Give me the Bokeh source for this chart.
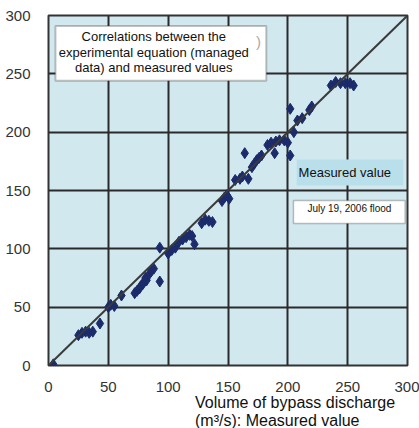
from bokeh.plotting import figure
from bokeh.models import Range1d, Label, BoxAnnotation, FixedTicker, Slope
from bokeh.layouts import column
from bokeh.embed import file_html
from bokeh.resources import INLINE

# Data: measured discharge (x) vs experimental-equation value (y), m3/s
x_measured = [4, 25, 28, 31, 34, 37, 43, 50, 52, 55, 61, 72, 74, 76, 77, 79, 80, 82, 81, 84,
              86, 88, 93, 93, 100, 103, 106, 109, 112, 115, 118, 120, 122, 128, 131, 134, 137,
              145, 147, 149, 151, 156, 160, 162, 164, 167, 170, 172, 174, 176, 178, 183, 186,
              189, 190, 193, 197, 200, 202, 205, 202, 208, 212, 218, 220, 236, 240, 244, 248,
              252, 255]
y_equation = [1, 26, 28, 29, 28, 29, 36, 50, 52, 51, 60, 62, 64, 66, 68, 70, 72, 73, 75, 78,
              81, 83, 72, 101, 96, 99, 101, 106, 108, 110, 112, 111, 104, 122, 125, 124, 123,
              141, 144, 146, 143, 159, 160, 162, 182, 160, 170, 173, 176, 178, 180, 189, 191,
              182, 192, 193, 193, 191, 180, 200, 220, 210, 212, 219, 222, 240, 243, 242, 242,
              242, 240]
ticks = [0, 50, 100, 150, 200, 250, 300]
title_lines = ["Correlations between the", "experimental equation (managed", "data) and measured values"]
xlabel_lines = ["Volume of bypass discharge", "(m\u00b3/s): Measured value"]
legend_box_text = "Measured value"
legend_item_text = "July 19, 2006 flood"

FONT = "Liberation Sans"

p = figure(width=419, height=395, output_backend="svg", toolbar_location=None,
           x_range=Range1d(0, 300), y_range=Range1d(0, 300),
           min_border_left=48, min_border_right=12, min_border_top=15, min_border_bottom=30)
p.background_fill_color = "#d0e8ee"
p.border_fill_color = "white"
p.outline_line_color = "#333333"
p.outline_line_width = 2

for ax in (p.xaxis, p.yaxis):
    ax.ticker = FixedTicker(ticks=ticks)
    ax.axis_line_color = None
    ax.major_tick_line_color = None
    ax.minor_tick_line_color = None
    ax.major_label_text_font = FONT
    ax.major_label_text_font_size = "15px"
    ax.major_label_text_color = "#333333"
p.xaxis.major_label_standoff = 10
p.yaxis.major_label_standoff = 12

p.grid.ticker = FixedTicker(ticks=ticks)
p.grid.grid_line_color = "#2a2a2a"
p.grid.grid_line_width = 2

# 1:1 line
p.add_layout(Slope(gradient=1, y_intercept=0, line_color="#3a3a3a", line_width=2))

p.scatter(x_measured, y_equation, marker="diamond", size=11, color="#1b2b6b")

# Top annotation box
p.add_layout(BoxAnnotation(left=5.8, right=182, bottom=244, top=291,
                           fill_color="white", fill_alpha=1.0,
                           line_color="#333333", line_width=2))
for t, yv in zip(title_lines, [282, 268.5, 255.3]):
    p.add_layout(Label(x=88, y=yv, text=t, text_align="center", text_baseline="middle",
                       text_font=FONT, text_font_size="13px", text_color="#111111"))
p.add_layout(Label(x=175.5, y=278, text=")", text_align="center", text_baseline="middle",
                   text_font=FONT, text_font_size="15px", text_color="#aaaaaa"))

# "Measured value" box
p.add_layout(BoxAnnotation(left=207.4, right=296.5, bottom=154.3, top=176.6,
                           fill_color="#b9dfea", fill_alpha=1.0, line_color=None))
p.add_layout(Label(x=209, y=165.4, text=legend_box_text, text_align="left", text_baseline="middle",
                   text_font=FONT, text_font_size="13px", text_color="#111111"))

# Legend item box
p.add_layout(BoxAnnotation(left=204.7, right=298, bottom=121.7, top=141.4,
                           fill_color="white", fill_alpha=1.0,
                           line_color="#333333", line_width=1.5))
p.scatter([213], [132], marker="diamond", size=7, color="#1b2b6b")
p.add_layout(Label(x=216.4, y=134.6, text=legend_item_text, text_align="left", text_baseline="middle",
                   text_font=FONT, text_font_size="10px", text_color="#111111"))

# x-axis label panel (two lines, left aligned) below the chart
lab = figure(width=419, height=33, output_backend="svg", toolbar_location=None,
             x_range=Range1d(0, 419), y_range=Range1d(0, 33),
             min_border=0, x_axis_type=None, y_axis_type=None)
lab.outline_line_color = None
lab.grid.visible = False
lab.background_fill_color = "white"
for t, yv in zip(xlabel_lines, [26, 8]):
    lab.add_layout(Label(x=171, y=yv, text=t, text_align="left", text_baseline="middle",
                         text_font=FONT, text_font_size="16px", text_color="#111111"))

layout = column(p, lab, spacing=0)
open("out.html", "w").write(file_html(layout, INLINE))
